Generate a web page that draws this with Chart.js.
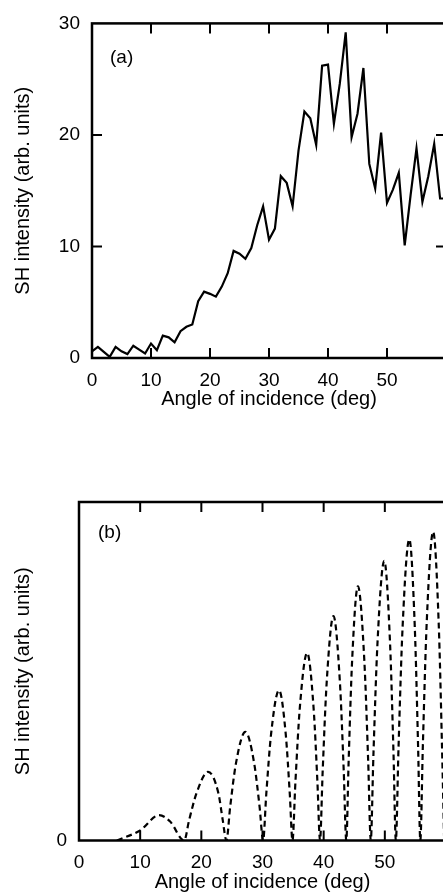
<!DOCTYPE html>
<html>
<head>
<meta charset="utf-8">
<script src="https://cdn.jsdelivr.net/npm/chart.js"></script>
<style>
  html, body { margin: 0; padding: 0; background: #fff; overflow: hidden; }
  #wrap { position: relative; width: 443px; height: 894px; overflow: hidden; }
  canvas { position: absolute; left: 0; }
  #chartA { top: 0; }
  #chartB { top: 440px; }
</style>
</head>
<body>
<div id="wrap">
  <canvas id="chartA" width="447" height="420"></canvas>
  <canvas id="chartB" width="447" height="454"></canvas>
</div>
<script>
// panel (a): measured SH intensity, one point per degree
var anglesA = [0, 1, 2, 3, 4, 5, 6, 7, 8, 9,
    10, 11, 12, 13, 14, 15, 16, 17, 18, 19,
    20, 21, 22, 23, 24, 25, 26, 27, 28, 29,
    30, 31, 32, 33, 34, 35, 36, 37, 38, 39,
    40, 41, 42, 43, 44, 45, 46, 47, 48, 49,
    50, 51, 52, 53, 54, 55, 56, 57, 58, 59, 60];
var intensityA = [0.6, 1.0, 0.55, 0.1, 1.0, 0.6, 0.35, 1.1, 0.75, 0.4,
    1.3, 0.7, 2.0, 1.85, 1.4, 2.4, 2.8, 3.0, 5.1, 5.95,
    5.75, 5.5, 6.4, 7.6, 9.6, 9.35, 8.9, 9.85, 11.9, 13.6,
    10.6, 11.6, 16.3, 15.7, 13.6, 18.6, 22.1, 21.5, 19.1, 26.2,
    26.3, 21.0, 24.6, 29.2, 19.8, 21.9, 26.0, 17.4, 15.2, 20.2,
    13.9, 15.1, 16.6, 10.1, 14.6, 18.8, 14.0, 16.3, 19.2, 14.3, 14.3];

// panel (b): calculated fringes (zeros, flanks and peaks)
var anglesB = [6.2, 10, 13.1, 14.9, 17.2,
    18.0, 19.2, 21.1, 22.8, 23.5, 24.1,
    24.72, 25.65, 27.2, 28.65, 29.52, 30.1,
    30.62, 31.4, 32.7, 33.8, 34.46, 34.9,
    35.38, 36.1, 37.3, 38.35, 38.98, 39.4,
    39.84, 40.5, 41.6, 42.65, 43.28, 43.7,
    44.08, 44.65, 45.6, 46.65, 47.28, 47.7,
    48.14, 48.8, 49.9, 50.85, 51.42, 51.8,
    52.24, 52.9, 54.0, 54.9, 55.44, 55.8,
    56.22, 56.85, 57.9, 58.8, 59.34, 59.7];
var intensityB = [0, 0.03, 0.075, 0.056, 0,
    0.06, 0.139, 0.203, 0.139, 0.06, 0,
    0.1, 0.227, 0.321, 0.227, 0.1, 0,
    0.138, 0.314, 0.444, 0.314, 0.138, 0,
    0.172, 0.392, 0.554, 0.392, 0.172, 0,
    0.206, 0.469, 0.663, 0.469, 0.206, 0,
    0.233, 0.531, 0.751, 0.531, 0.233, 0,
    0.256, 0.584, 0.826, 0.584, 0.256, 0,
    0.276, 0.629, 0.89, 0.629, 0.276, 0,
    0.283, 0.645, 0.912, 0.645, 0.283, 0];

var xTicks = [0, 10, 20, 30, 40, 50];
var yTicksA = [0, 10, 20, 30];
var yTicksB = [0];

var FONT = 'Liberation Sans, Arial, Helvetica, sans-serif';

// inward ticks, frame box and the panel letter
var frameTicks = {
    id: 'frameTicks',
    afterDatasetsDraw: function (chart, args, opts) {
        var ctx = chart.ctx;
        var a = chart.chartArea;
        var xs = chart.scales.x;
        var ys = chart.scales.y;
        ctx.save();
        ctx.strokeStyle = '#000';
        ctx.lineWidth = 2;
        ctx.beginPath();
        xTicks.forEach(function (v) {
            if (v <= xs.min || v >= xs.max) return;
            var px = xs.getPixelForValue(v);
            ctx.moveTo(px, a.bottom);
            ctx.lineTo(px, a.bottom - 10);
            ctx.moveTo(px, a.top);
            ctx.lineTo(px, a.top + 10);
        });
        (opts.yTicks || []).forEach(function (v) {
            if (v <= ys.min || v >= ys.max) return;
            var py = ys.getPixelForValue(v);
            ctx.moveTo(a.left, py);
            ctx.lineTo(a.left + 10, py);
            ctx.moveTo(a.right, py);
            ctx.lineTo(a.right - 10, py);
        });
        ctx.stroke();
        ctx.lineWidth = 2.5;
        ctx.strokeRect(a.left, a.top, a.right - a.left, a.bottom - a.top);

        ctx.fillStyle = '#000';
        ctx.font = '19px ' + FONT;
        ctx.textBaseline = 'middle';
        ctx.fillText(opts.letter, a.left + opts.dx, a.top + opts.dy);
        ctx.restore();
    }
};

function makeChart(id, cfg) {
    var ctx = document.getElementById(id).getContext('2d');
    return new Chart(ctx, {
        type: 'line',
        data: {
            datasets: [{
                data: cfg.xs.map(function (x, i) { return { x: x, y: cfg.ys[i] }; }),
                borderColor: '#000',
                borderWidth: cfg.width,
                borderDash: cfg.dash,
                pointRadius: 0,
                fill: false,
                tension: 0,
                cubicInterpolationMode: cfg.smooth ? 'monotone' : 'default'
            }]
        },
        options: {
            responsive: false,
            animation: false,
            devicePixelRatio: 1,
            layout: {
                autoPadding: false,
                padding: { top: cfg.padTop, right: 1, left: 0, bottom: 0 }
            },
            plugins: {
                legend: { display: false },
                tooltip: { enabled: false },
                frameTicks: { yTicks: cfg.inTicksY, letter: cfg.letter, dx: cfg.letterDx, dy: cfg.letterDy }
            },
            scales: {
                x: {
                    type: 'linear',
                    min: 0,
                    max: 60,
                    afterBuildTicks: function (scale) {
                        scale.ticks = xTicks.map(function (v) { return { value: v }; });
                    },
                    afterFit: function (scale) { scale.height = cfg.xHeight; },
                    grid: { display: false, drawTicks: false },
                    border: { display: false },
                    ticks: { color: '#000', padding: 11, maxRotation: 0, font: { family: FONT, size: 19 } },
                    title: {
                        display: true,
                        text: 'Angle of incidence (deg)',
                        color: '#000',
                        font: { family: FONT, size: 20 },
                        padding: { top: 0, bottom: cfg.xTitlePad }
                    }
                },
                y: {
                    min: 0,
                    max: cfg.yMax,
                    afterBuildTicks: function (scale) {
                        scale.ticks = cfg.yTicks.map(function (v) { return { value: v }; });
                    },
                    afterFit: function (scale) { scale.width = cfg.yWidth; },
                    grid: { display: false, drawTicks: false },
                    border: { display: false },
                    ticks: { color: '#000', padding: 12, font: { family: FONT, size: 19 } },
                    title: {
                        display: true,
                        text: 'SH intensity (arb. units)',
                        color: '#000',
                        font: { family: FONT, size: 20 },
                        padding: { top: 11, bottom: 0 }
                    }
                }
            }
        },
        plugins: [frameTicks]
    });
}

makeChart('chartA', {
    xs: anglesA, ys: intensityA, width: 2.2, dash: [], smooth: false,
    yMax: 30, yTicks: yTicksA, inTicksY: [10, 20],
    padTop: 18, xHeight: 62, yWidth: 92, xTitlePad: 9,
    letter: '(a)', letterDx: 18, letterDy: 34
});

makeChart('chartB', {
    xs: anglesB, ys: intensityB, width: 2.2, dash: [6, 4], smooth: true,
    yMax: 1, yTicks: yTicksB, inTicksY: [],
    padTop: 62, xHeight: 53.5, yWidth: 79, xTitlePad: 0,
    letter: '(b)', letterDx: 19, letterDy: 31
});
</script>
</body>
</html>
